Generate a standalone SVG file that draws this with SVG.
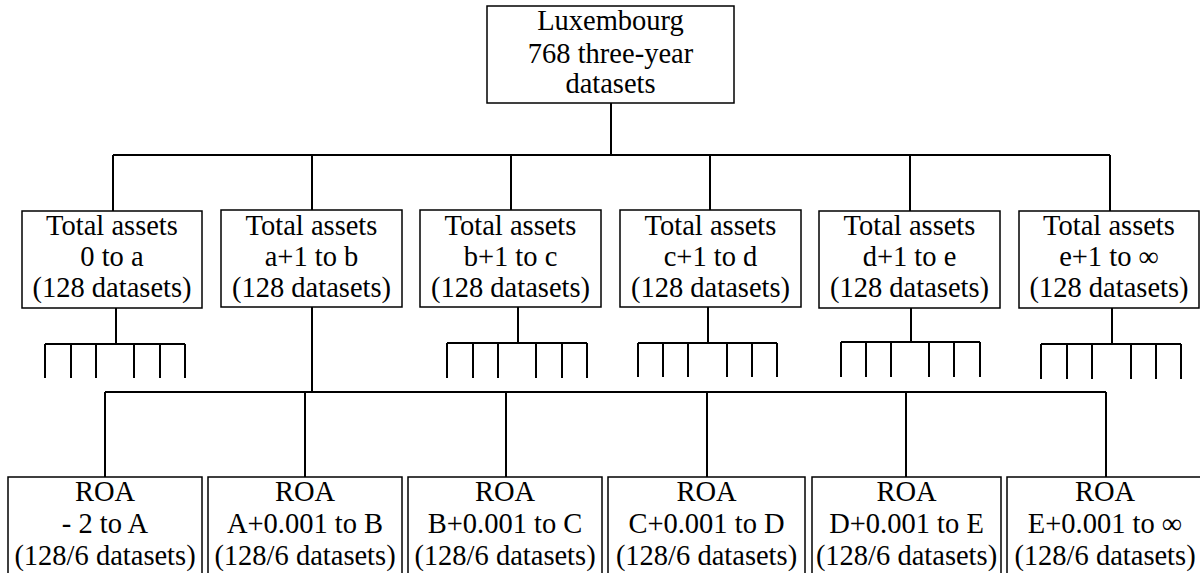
<svg xmlns="http://www.w3.org/2000/svg" width="1200" height="573" viewBox="0 0 1200 573">
<style>
.box{fill:#fff;stroke:#000;stroke-width:1.5}
.c{fill:none;stroke:#000;stroke-width:2}
text{font-family:"Liberation Serif",Tinos,"Times New Roman",Times,"Noto Serif","DejaVu Serif",FreeSerif,serif;font-size:28.5px;text-anchor:middle;fill:#000}
</style>
<rect width="1200" height="573" fill="#fff"/>
<g id="connectors">
<path class="c" d="M611,103V155M113,155H1110M113,155V211M312,155V211M511,155V211M710,155V211M910,155V211M1110,155V211"/>
<path class="c" d="M116,308V344M45,344H185M45,344V378M71,344V378M96,344V378M134,344V378M160,344V378M185,344V378"/>
<path class="c" d="M518,307V343M447,343H587M447,343V378M473,343V378M498,343V378M536,343V378M562,343V378M587,343V378"/>
<path class="c" d="M708,307V343M638,343H777M638,343V377M663,343V377M688,343V377M727,343V377M752,343V377M777,343V377"/>
<path class="c" d="M911,308V342M841,342H980M841,342V377M866,342V377M891,342V377M929,342V377M954,342V377M980,342V377"/>
<path class="c" d="M1112,308V344M1041,344H1181M1041,344V379M1067,344V379M1092,344V379M1131,344V379M1156,344V379M1181,344V379"/>
<path class="c" d="M312,307V392M105,392H1106M105,392V477M305,392V477M506,392V477M707,392V477M906,392V477M1106,392V477" stroke-width="1.7"/>
</g>
<g id="root"><rect class="box" x="487" y="6" width="247" height="97"/>
<text x="610.5" y="30">Luxembourg</text><text x="610.5" y="63">768 three-year</text><text x="610.5" y="93">datasets</text></g>
<g id="ta1"><rect class="box" x="22" y="211" width="180" height="97"/><text x="112" y="235">Total assets</text><text x="112" y="266">0 to a</text><text x="112" y="297">(128 datasets)</text></g>
<g id="ta2"><rect class="box" x="221" y="210" width="181" height="97"/><text x="311.5" y="235">Total assets</text><text x="311.5" y="266">a+1 to b</text><text x="311.5" y="297">(128 datasets)</text></g>
<g id="ta3"><rect class="box" x="420" y="210" width="181" height="97"/><text x="510.5" y="235">Total assets</text><text x="510.5" y="266">b+1 to c</text><text x="510.5" y="297">(128 datasets)</text></g>
<g id="ta4"><rect class="box" x="620" y="210" width="181" height="97"/><text x="710.5" y="235">Total assets</text><text x="710.5" y="266">c+1 to d</text><text x="710.5" y="297">(128 datasets)</text></g>
<g id="ta5"><rect class="box" x="819" y="211" width="181" height="97"/><text x="909.5" y="235">Total assets</text><text x="909.5" y="266">d+1 to e</text><text x="909.5" y="297">(128 datasets)</text></g>
<g id="ta6"><rect class="box" x="1019" y="211" width="180" height="97"/><text x="1109" y="235">Total assets</text><text x="1109" y="266">e+1 to ∞</text><text x="1109" y="297">(128 datasets)</text></g>
<g id="roa1"><rect class="box" x="8" y="477" width="194" height="110"/><text x="105" y="501">ROA</text><text x="105" y="533">- 2 to A</text><text x="105" y="565">(128/6 datasets)</text></g>
<g id="roa2"><rect class="box" x="208" y="477" width="194" height="110"/><text x="305" y="501">ROA</text><text x="305" y="533">A+0.001 to B</text><text x="305" y="565">(128/6 datasets)</text></g>
<g id="roa3"><rect class="box" x="408" y="477" width="194" height="110"/><text x="505" y="501">ROA</text><text x="505" y="533">B+0.001 to C</text><text x="505" y="565">(128/6 datasets)</text></g>
<g id="roa4"><rect class="box" x="608" y="477" width="197" height="110"/><text x="706.5" y="501">ROA</text><text x="706.5" y="533">C+0.001 to D</text><text x="706.5" y="565">(128/6 datasets)</text></g>
<g id="roa5"><rect class="box" x="812" y="477" width="189" height="110"/><text x="906.5" y="501">ROA</text><text x="906.5" y="533">D+0.001 to E</text><text x="906.5" y="565">(128/6 datasets)</text></g>
<g id="roa6"><rect class="box" x="1007" y="477" width="200" height="110"/><text x="1105" y="501">ROA</text><text x="1105" y="533">E+0.001 to ∞</text><text x="1105" y="565">(128/6 datasets)</text></g>
</svg>
